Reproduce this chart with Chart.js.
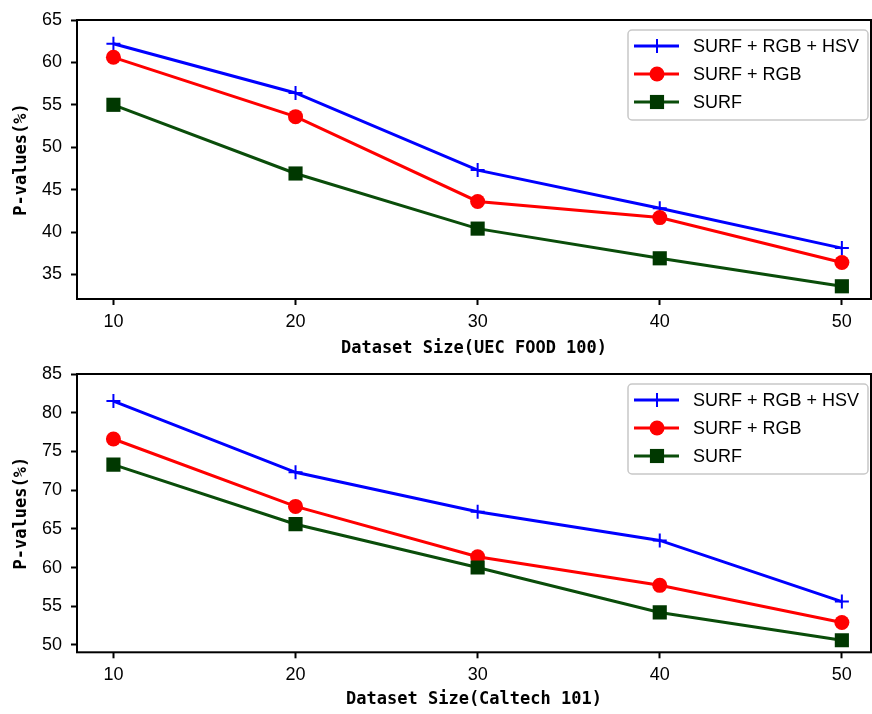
<!DOCTYPE html>
<html>
<head>
<meta charset="utf-8">
<script src="https://cdn.jsdelivr.net/npm/chart.js@4"></script>
<style>
  body { margin: 0; background: #fff; }
  canvas { display: block; }
</style>
</head>
<body>
<canvas id="topChart" width="872" height="357"></canvas>
<canvas id="bottomChart" width="872" height="357"></canvas>
<script>
// dataset sizes on the x axis
const sizes = [10, 20, 30, 40, 50];
const seriesNames = ['SURF + RGB + HSV', 'SURF + RGB', 'SURF'];

// UEC FOOD 100
const uecAll = [62.2, 56.4, 47.3, 42.8, 38.1];
const uecRgb = [60.6, 53.6, 43.6, 41.7, 36.4];
const uecSurf = [55.0, 46.9, 40.4, 36.9, 33.6];
const uecTicks = [35, 40, 45, 50, 55, 60, 65];

// Caltech 101
const calAll = [81.5, 72.3, 67.2, 63.5, 55.6];
const calRgb = [76.6, 67.9, 61.4, 57.7, 52.9];
const calSurf = [73.3, 65.6, 60.0, 54.2, 50.6];
const calTicks = [50, 55, 60, 65, 70, 75, 80, 85];

const tickFont = { family: '"Liberation Sans Narrow", "Liberation Sans", sans-serif', size: 18 };
const titleFont = { family: '"DejaVu Sans Mono", monospace', size: 17, weight: 'bold', lineHeight: 1 };

const styles = [
    { color: '#0000ff', marker: '#0000ff', pointStyle: 'cross', radius: 7 },
    { color: '#ff0000', marker: '#ff0000', pointStyle: 'circle', radius: 7.5 },
    { color: '#0a4d0a', marker: '#003800', pointStyle: 'rect', radius: 10 }
];

// frame round the plot area plus a matplotlib-like legend box
const framePlugin = {
    id: 'frame',
    afterDraw(chart) {
        const { ctx, chartArea: a } = chart;
        ctx.save();
        ctx.strokeStyle = '#000';
        ctx.lineWidth = 2;
        ctx.strokeRect(a.left, a.top, a.right - a.left, a.bottom - a.top);

        const bw = 240, bh = 90;
        const bx = a.right - 3 - bw, by = a.top + 10;
        ctx.fillStyle = 'rgba(255,255,255,0.85)';
        ctx.strokeStyle = '#c8c8c8';
        ctx.lineWidth = 1.5;
        ctx.beginPath();
        ctx.roundRect(bx, by, bw, bh, 4);
        ctx.fill();
        ctx.stroke();

        seriesNames.forEach((name, i) => {
            const s = styles[i];
            const y = by + 16 + 28 * i;
            const mx = bx + 29;
            ctx.strokeStyle = s.color;
            ctx.lineWidth = 3;
            ctx.beginPath();
            ctx.moveTo(bx + 6, y);
            ctx.lineTo(bx + 51, y);
            ctx.stroke();
            ctx.fillStyle = s.marker;
            if (s.pointStyle === 'cross') {
                ctx.lineWidth = 2;
                ctx.beginPath();
                ctx.moveTo(mx, y - s.radius);
                ctx.lineTo(mx, y + s.radius);
                ctx.stroke();
            } else if (s.pointStyle === 'circle') {
                ctx.beginPath();
                ctx.arc(mx, y, s.radius, 0, Math.PI * 2);
                ctx.fill();
            } else {
                const h = s.radius * Math.SQRT1_2;
                ctx.fillRect(mx - h, y - h, 2 * h, 2 * h);
            }
            ctx.fillStyle = '#000';
            ctx.font = '18px "Liberation Sans", sans-serif';
            ctx.textBaseline = 'middle';
            ctx.fillText(name, bx + 65, y + 1);
        });
        ctx.restore();
    }
};

function makeChart(id, series, yTicks, yMin, yMax, xTitle, topPad, xHeight, titlePad) {
    const ctx = document.getElementById(id).getContext('2d');
    return new Chart(ctx, {
        type: 'line',
        data: {
            datasets: series.map((vals, i) => ({
                label: seriesNames[i],
                data: sizes.map((x, j) => ({ x: x, y: vals[j] })),
                borderColor: styles[i].color,
                backgroundColor: styles[i].marker,
                pointBackgroundColor: styles[i].marker,
                pointBorderColor: styles[i].marker,
                pointStyle: styles[i].pointStyle,
                pointRadius: styles[i].radius,
                pointHoverRadius: styles[i].radius,
                pointBorderWidth: i === 0 ? 2 : 0,
                borderWidth: 3,
                tension: 0,
                order: 3 - i
            }))
        },
        options: {
            responsive: false,
            animation: false,
            layout: { autoPadding: false, padding: { top: topPad, right: 1, left: 0, bottom: 0 } },
            plugins: { legend: { display: false }, tooltip: { enabled: false } },
            scales: {
                x: {
                    type: 'linear',
                    min: 8,
                    max: 51.6,
                    afterBuildTicks: scale => { scale.ticks = sizes.map(v => ({ value: v })); },
                    afterFit: scale => {
                        scale.height = xHeight;
                        scale.paddingLeft = 0;
                        scale.paddingRight = 0;
                    },
                    grid: { drawOnChartArea: false, drawTicks: true, tickLength: 6, tickWidth: 2, tickColor: '#000' },
                    border: { display: false },
                    ticks: { color: '#000', font: tickFont, padding: 6, maxRotation: 0 },
                    title: { display: true, text: xTitle, color: '#000', font: titleFont, padding: { top: 0, bottom: titlePad } }
                },
                y: {
                    min: yMin,
                    max: yMax,
                    afterBuildTicks: scale => { scale.ticks = yTicks.map(v => ({ value: v })); },
                    afterFit: scale => {
                        scale.width = 77;
                        scale.paddingTop = 0;
                        scale.paddingBottom = 0;
                    },
                    grid: { drawOnChartArea: false, drawTicks: true, tickLength: 6, tickWidth: 2, tickColor: '#000' },
                    border: { display: false },
                    ticks: { color: '#000', font: tickFont, padding: 9 },
                    title: { display: true, text: 'P-values(%)', color: '#000', font: titleFont, padding: { top: 13.5, bottom: 0 } }
                }
            }
        },
        plugins: [framePlugin]
    });
}

makeChart('topChart', [uecAll, uecRgb, uecSurf], uecTicks, 32.1, 65, 'Dataset Size(UEC FOOD 100)', 20, 58, 0);
makeChart('bottomChart', [calAll, calRgb, calSurf], calTicks, 49.05, 85, 'Dataset Size(Caltech 101)', 17, 61.7, 5.5);
</script>
</body>
</html>
